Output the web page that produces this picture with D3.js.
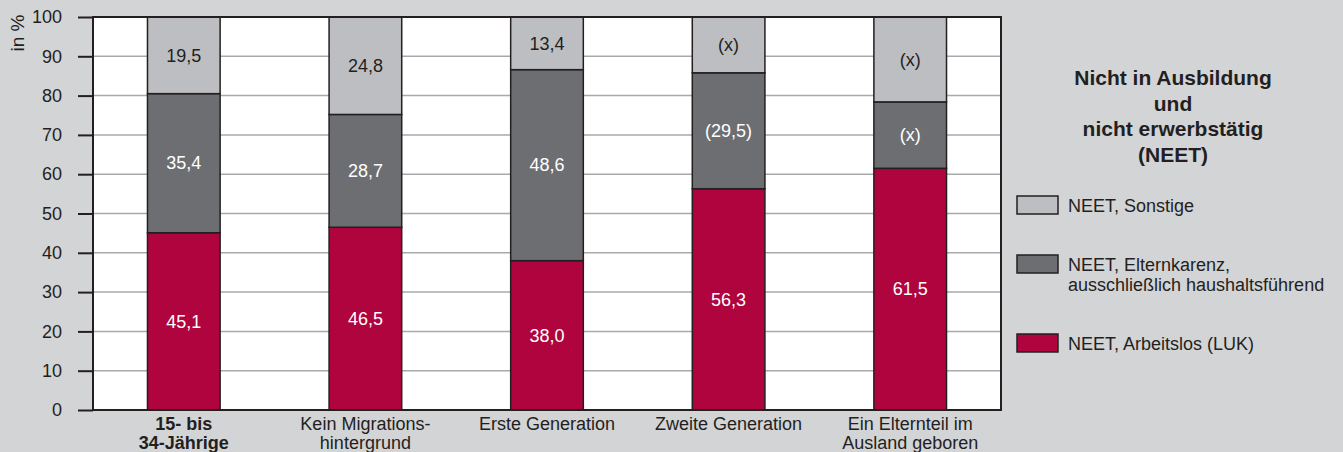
<!DOCTYPE html>
<html>
<head>
<meta charset="utf-8">
<script src="https://cdn.jsdelivr.net/npm/d3@7"></script>
<style>
  html, body { margin: 0; padding: 0; background: #d3d4d6; }
  svg { display: block; font-family: "Liberation Sans", Arial, sans-serif; }
</style>
</head>
<body>
<svg id="chart" width="1343" height="452"></svg>
<script>
// Categories (x axis), each label split into lines
const categories = [
  ["15- bis", "34-Jährige"],
  ["Kein Migrations-", "hintergrund"],
  ["Erste Generation"],
  ["Zweite Generation"],
  ["Ein Elternteil im", "Ausland geboren"]
];
const boldCategory = [true, false, false, false, false];

// Series values (percent), stacked bottom to top
const arbeitslos = [45.1, 46.5, 38.0, 56.3, 61.5];
const elternkarenz = [35.4, 28.7, 48.6, 29.5, 16.9];
const sonstige = [19.5, 24.8, 13.4, 14.2, 21.6];

// Printed labels for each segment
const arbeitslosLabels = ["45,1", "46,5", "38,0", "56,3", "61,5"];
const elternkarenzLabels = ["35,4", "28,7", "48,6", "(29,5)", "(x)"];
const sonstigeLabels = ["19,5", "24,8", "13,4", "(x)", "(x)"];

const yTicks = [0, 10, 20, 30, 40, 50, 60, 70, 80, 90, 100];

const seriesNames = ["NEET, Arbeitslos (LUK)", "NEET, Elternkarenz,\nausschließlich haushaltsführend", "NEET, Sonstige"];
const colors = ["#b0043e", "#6d6e71", "#bdbec1"];
const labelColors = ["#ffffff", "#ffffff", "#231f20"];

const FS = 18;
const svg = d3.select("#chart");
const plot = { left: 93, right: 1001, top: 17, bottom: 410 };

const x = d3.scaleBand()
  .domain(d3.range(categories.length))
  .range([plot.left, plot.right])
  .paddingInner(0.6)
  .paddingOuter(0.3);

const y = d3.scaleLinear().domain([0, 100]).range([plot.bottom, plot.top]);

// plot background
svg.append("rect")
  .attr("x", plot.left).attr("y", plot.top)
  .attr("width", plot.right - plot.left).attr("height", plot.bottom - plot.top)
  .attr("fill", "#ffffff");

// horizontal gridlines
svg.append("g")
  .selectAll("line")
  .data(yTicks.filter(d => d > 0 && d < 100))
  .join("line")
  .attr("x1", plot.left).attr("x2", plot.right)
  .attr("y1", d => y(d)).attr("y2", d => y(d))
  .attr("stroke", "#a7a9ac").attr("stroke-width", 1.5);

// stacked data
const rows = categories.map((c, i) => ({
  i,
  arbeitslos: arbeitslos[i],
  elternkarenz: elternkarenz[i],
  sonstige: sonstige[i]
}));
const keys = ["arbeitslos", "elternkarenz", "sonstige"];
const labelSets = [arbeitslosLabels, elternkarenzLabels, sonstigeLabels];
const stacked = d3.stack().keys(keys)(rows);

const layers = svg.append("g")
  .selectAll("g")
  .data(stacked)
  .join("g")
  .attr("fill", (d, k) => colors[k]);

layers.selectAll("rect")
  .data(d => d)
  .join("rect")
  .attr("x", d => x(d.data.i))
  .attr("width", x.bandwidth())
  .attr("y", d => y(d[1]))
  .attr("height", d => y(d[0]) - y(d[1]))
  .attr("stroke", "#231f20")
  .attr("stroke-width", 1.5);

// segment value labels
stacked.forEach((layer, k) => {
  svg.append("g")
    .selectAll("text")
    .data(layer)
    .join("text")
    .attr("x", d => x(d.data.i) + x.bandwidth() / 2)
    .attr("y", d => y((d[0] + d[1]) / 2))
    .attr("dy", "0.35em")
    .attr("text-anchor", "middle")
    .attr("font-size", FS)
    .attr("fill", labelColors[k])
    .text(d => labelSets[k][d.data.i]);
});

// frame
svg.append("rect")
  .attr("x", plot.left).attr("y", plot.top)
  .attr("width", plot.right - plot.left).attr("height", plot.bottom - plot.top)
  .attr("fill", "none")
  .attr("stroke", "#231f20").attr("stroke-width", 2);

// y axis
const yAxis = svg.append("g")
  .attr("transform", `translate(${plot.left},0)`)
  .call(d3.axisLeft(y).tickValues(yTicks).tickSize(15).tickPadding(16).tickFormat(d3.format("d")));
yAxis.select(".domain").remove();
yAxis.selectAll(".tick line").attr("stroke", "#231f20").attr("stroke-width", 2);
yAxis.selectAll(".tick text")
  .attr("font-size", FS)
  .attr("font-family", "Liberation Sans, Arial, sans-serif")
  .attr("fill", "#231f20");

// y axis title
svg.append("text")
  .attr("transform", "translate(24,33) rotate(-90)")
  .attr("text-anchor", "middle")
  .attr("font-size", 19)
  .attr("fill", "#231f20")
  .text("in %");

// x category labels
const xLabels = svg.append("g")
  .selectAll("text")
  .data(categories)
  .join("text")
  .attr("x", (d, i) => x(i) + x.bandwidth() / 2)
  .attr("y", 430)
  .attr("text-anchor", "middle")
  .attr("font-size", FS)
  .attr("font-weight", (d, i) => boldCategory[i] ? "bold" : "normal")
  .attr("fill", "#231f20");
xLabels.selectAll("tspan")
  .data(d => d)
  .join("tspan")
  .attr("x", function () { return d3.select(this.parentNode).attr("x"); })
  .attr("dy", (d, j) => j === 0 ? 0 : 19)
  .text(d => d);

// legend title
const titleLines = ["Nicht in Ausbildung", "und", "nicht erwerbstätig", "(NEET)"];
svg.append("text")
  .attr("text-anchor", "middle")
  .attr("font-size", 21)
  .attr("font-weight", "bold")
  .attr("fill", "#231f20")
  .selectAll("tspan")
  .data(titleLines)
  .join("tspan")
  .attr("x", 1173)
  .attr("y", (d, j) => 85 + j * 25.7)
  .text(d => d);

// legend entries (top to bottom: Sonstige, Elternkarenz, Arbeitslos)
const legendOrder = [2, 1, 0];
const legendY = [196, 255, 334];
const legend = svg.append("g")
  .selectAll("g")
  .data(legendOrder)
  .join("g")
  .attr("transform", (d, j) => `translate(1017,${legendY[j]})`);
legend.append("rect")
  .attr("width", 41).attr("height", 18)
  .attr("fill", d => colors[d])
  .attr("stroke", "#231f20").attr("stroke-width", 1.5);
legend.append("text")
  .attr("font-size", FS)
  .attr("fill", "#231f20")
  .selectAll("tspan")
  .data(d => seriesNames[d].split("\n"))
  .join("tspan")
  .attr("x", 51)
  .attr("y", (t, j) => 16 + j * 20)
  .text(t => t);
</script>
</body>
</html>
